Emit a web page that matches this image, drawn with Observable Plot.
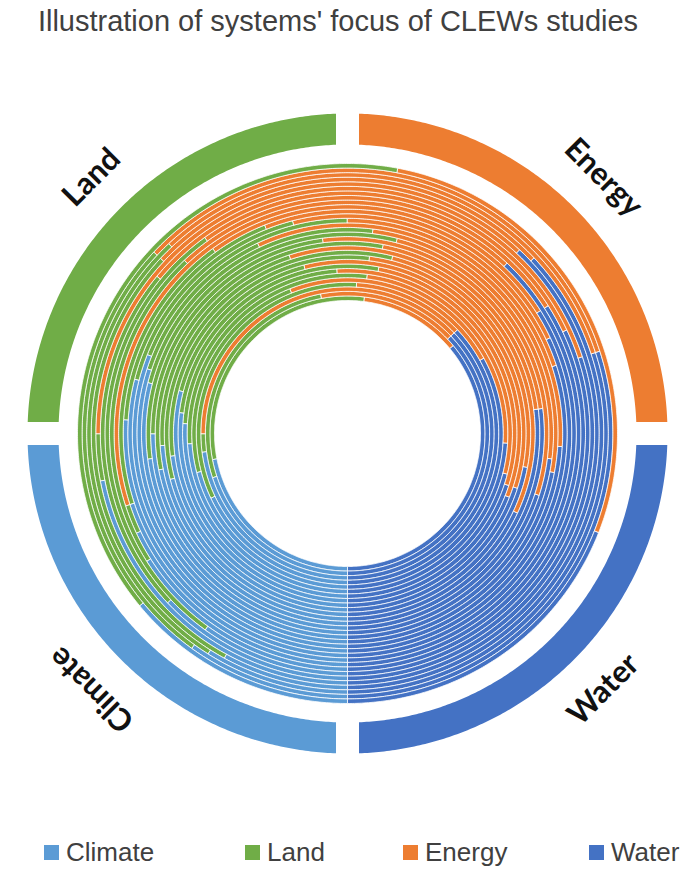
<!DOCTYPE html>
<html><head><meta charset="utf-8">
<script src="https://cdn.jsdelivr.net/npm/d3@7"></script>
<script src="https://cdn.jsdelivr.net/npm/@observablehq/plot@0.6"></script>
<style>
body{margin:0;background:#fff;width:696px;height:879px;overflow:hidden;font-family:"Liberation Sans",Arial,sans-serif;position:relative;}
#title{position:absolute;left:0;top:0;width:676px;text-align:center;font-size:29px;color:#404040;line-height:42px;white-space:nowrap;}
#chart{position:absolute;left:0;top:50px;}
#legend{position:absolute;left:0;top:832px;width:696px;height:40px;}
.item{position:absolute;top:0;display:flex;align-items:center;font-size:26px;color:#404040;height:40px;white-space:nowrap;}
.sw{width:15px;height:15px;margin-right:7px;}
</style></head><body>
<div id="title">Illustration of systems' focus of CLEWs studies</div>
<div id="chart"></div>
<div id="legend"></div>
<script>
// Categories (series order, clockwise from the 6 o'clock start)
const categories = ["Climate", "Land", "Energy", "Water"];
const colors = ["#5B9BD5", "#70AD47", "#ED7D31", "#4472C4"];
// One value per study (ring), innermost ring first, shares in %
const climate = [22,20,23,18,21,24,26,27,29,23,21,24,22,25,23,29,30,31,29,26,20,18,16,10,13,22, 8, 9,10,14];
const land    = [30,27, 2,33,23,28,23,26,17,29,33,21,31,23,31,23,13,19,17,18,20, 2,22,30,23, 3,29,29,27,39];
const energy  = [12,16,38,12,23,24,30,27,35,28,24,37,20,25,26,25,35,26,24,24,26,42,28,28,34,37,26,32,33,28];
const water   = [36,37,37,37,33,24,21,20,19,20,22,18,27,27,20,23,22,24,30,32,34,38,34,32,30,38,37,30,30,19];
// Outer ring: systems (equal quarters)
const systemShares = [25, 25, 25, 25];
const labelAngles = [225, 315, 45, 135];
const labelRotate = [-135, -45, 45, -45];

const START = 180;            // first slice angle (degrees, clockwise from top)
const R_IN = 133, R_OUT = 270; // study rings
const S_IN = 289, S_OUT = 320; // systems ring
const GAP = 11.5;              // half gap (px) between system segments
const LABEL_R = 362;

const rad = d => d * Math.PI / 180;
function arcPoly(out, id, cat, a0, a1, r0, r1, halfGap) {
  const pts = [];
  const g1 = halfGap ? (halfGap / r1) * 180 / Math.PI : 0;
  const g0 = halfGap ? (halfGap / r0) * 180 / Math.PI : 0;
  const b0 = a0 + g1, b1 = a1 - g1;
  const n1 = Math.max(2, Math.ceil((b1 - b0) / 0.5));
  for (let i = 0; i <= n1; i++) {
    const a = b0 + (b1 - b0) * i / n1;
    pts.push({id, cat, x: r1 * Math.sin(rad(a)), y: -r1 * Math.cos(rad(a))});
  }
  const c0 = a0 + g0, c1 = a1 - g0;
  const n0 = Math.max(2, Math.ceil((c1 - c0) / 0.5));
  for (let i = n0; i >= 0; i--) {
    const a = c0 + (c1 - c0) * i / n0;
    pts.push({id, cat, x: r0 * Math.sin(rad(a)), y: -r0 * Math.cos(rad(a))});
  }
  out.push(...pts);
}

const series = [climate, land, energy, water];
const nRings = climate.length;
const w = (R_OUT - R_IN) / nRings;
const ringPts = [];
for (let k = 0; k < nRings; k++) {
  const vals = series.map(s => s[k]);
  const tot = d3.sum(vals);
  let acc = 0;
  vals.forEach((v, j) => {
    if (v > 0) {
      const a0 = START + 360 * acc / tot, a1 = START + 360 * (acc + v) / tot;
      arcPoly(ringPts, `r${k}-${j}`, categories[j], a0, a1, R_IN + k * w, R_IN + (k + 1) * w, 0);
    }
    acc += v;
  });
}
const sysPts = [];
{
  const tot = d3.sum(systemShares);
  let acc = 0;
  systemShares.forEach((v, j) => {
    arcPoly(sysPts, `s${j}`, categories[j], START + 360 * acc / tot, START + 360 * (acc + v) / tot, S_IN, S_OUT, GAP);
    acc += v;
  });
}
const labels = categories.map((c, j) => ({
  text: c,
  x: LABEL_R * Math.sin(rad(labelAngles[j])),
  y: -LABEL_R * Math.cos(rad(labelAngles[j])),
  rotate: labelRotate[j]
}));

const chart = Plot.plot({
  width: 696, height: 780, margin: 0,
  x: {domain: [-347, 349], range: [0, 696], axis: null},
  y: {domain: [-383, 397], range: [0, 780], axis: null},
  color: {domain: categories, range: colors},
  marks: [
    Plot.line(ringPts, {x: "x", y: "y", z: "id", fill: "cat", stroke: "white", strokeWidth: 0.8, curve: "linear-closed"}),
    Plot.line(sysPts, {x: "x", y: "y", z: "id", fill: "cat", stroke: "none", curve: "linear-closed"}),
    Plot.text(labels, {x: "x", y: "y", text: "text", rotate: "rotate", fontSize: 31, fontWeight: 700, fontFamily: "Lato, 'Open Sans', sans-serif", fill: "#111"})
  ]
});
document.getElementById("chart").appendChild(chart);

const legendX = [44, 245, 403, 589];
const lg = document.getElementById("legend");
categories.forEach((c, j) => {
  const d = document.createElement("div");
  d.className = "item";
  d.style.left = legendX[j] + "px";
  d.innerHTML = `<span class="sw" style="background:${colors[j]}"></span>${c}`;
  lg.appendChild(d);
});
</script>
</body></html>
